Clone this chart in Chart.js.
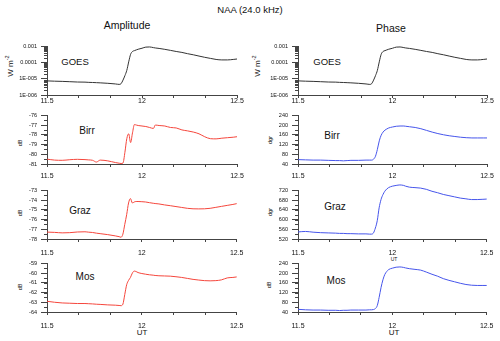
<!DOCTYPE html>
<html>
<head>
<meta charset="utf-8">
<script src="https://cdn.jsdelivr.net/npm/chart.js@4"></script>
<style>
body { margin: 0; background: #fff; }
#wrap { position: relative; width: 500px; height: 341px; overflow: hidden; font-family: "Liberation Sans", Arial, sans-serif; color: #111; }
#wrap canvas { position: absolute; }
.lbl { position: absolute; transform: translate(-50%, -50%); white-space: nowrap; line-height: 1; }
.ylab { position: absolute; transform: translate(-50%, -50%) rotate(-90deg); white-space: nowrap; line-height: 1; }
</style>
</head>
<body>
<div id="wrap">
  <div class="lbl" style="left:250px;top:10px;font-size:9.5px">NAA (24.0 kHz)</div>
  <div class="lbl" style="left:127px;top:25px;font-size:10.5px">Amplitude</div>
  <div class="lbl" style="left:391px;top:28px;font-size:10.5px">Phase</div>

  <div class="lbl" style="left:75px;top:62px;font-size:9.5px">GOES</div>
  <div class="lbl" style="left:327px;top:62px;font-size:9.5px">GOES</div>
  <div class="lbl" style="left:87px;top:131px;font-size:10px">Birr</div>
  <div class="lbl" style="left:332px;top:136px;font-size:10px">Birr</div>
  <div class="lbl" style="left:80px;top:211px;font-size:10px">Graz</div>
  <div class="lbl" style="left:335px;top:207px;font-size:10px">Graz</div>
  <div class="lbl" style="left:85px;top:277px;font-size:10px">Mos</div>
  <div class="lbl" style="left:336px;top:281px;font-size:10px">Mos</div>

  <div class="ylab" style="left:10px;top:66px;font-size:8px">W m<sup style="font-size:5.5px">-2</sup></div>
  <div class="ylab" style="left:257px;top:66px;font-size:8px">W m<sup style="font-size:5.5px">-2</sup></div>
  <div class="ylab" style="left:21px;top:143px;font-size:5.5px">dB</div>
  <div class="ylab" style="left:21px;top:213px;font-size:5.5px">dB</div>
  <div class="ylab" style="left:21px;top:287px;font-size:5.5px">dB</div>
  <div class="ylab" style="left:271px;top:140px;font-size:5.5px">dgr</div>
  <div class="ylab" style="left:271px;top:212px;font-size:5.5px">dgr</div>
  <div class="ylab" style="left:270px;top:285px;font-size:5.5px">dB</div>

  <div class="lbl" style="left:142px;top:333px;font-size:8px">UT</div>
  <div class="lbl" style="left:394px;top:333px;font-size:8px">UT</div>
  <div class="lbl" style="left:394px;top:259px;font-size:5px">UT</div>
</div>
<script>
// time axis (UT hours)
const ut = [11.50, 11.54, 11.58, 11.62, 11.66, 11.70, 11.72, 11.74, 11.76, 11.78, 11.82, 11.86,
  11.88, 11.89, 11.90, 11.91, 11.92, 11.93, 11.94, 11.95, 11.96, 11.97, 11.98,
  12.00, 12.02, 12.04, 12.06, 12.07, 12.09, 12.12, 12.15, 12.18, 12.21, 12.24,
  12.27, 12.30, 12.33, 12.36, 12.39, 12.42, 12.45, 12.48, 12.50];

// GOES X-ray flux, W m-2
const goesFlux = [7.4e-6, 7.1e-6, 6.9e-6, 6.6e-6, 6.3e-6, 6.2e-6, 6.0e-6, 5.9e-6, 5.75e-6, 5.6e-6, 5.25e-6, 4.8e-6,
  4.5e-6, 5.0e-6, 8.3e-6, 1.55e-5, 3.3e-5, 1.1e-4, 3.2e-4, 4.8e-4, 5.4e-4, 6.0e-4, 6.6e-4,
  7.6e-4, 8.9e-4, 9.1e-4, 8.3e-4, 7.9e-4, 7.4e-4, 6.5e-4, 5.6e-4, 4.8e-4, 4.2e-4, 3.5e-4,
  3.0e-4, 2.5e-4, 2.1e-4, 1.8e-4, 1.55e-4, 1.45e-4, 1.45e-4, 1.55e-4, 1.65e-4];

// amplitude, dB
const birrAmp = [-80.50, -80.60, -80.62, -80.56, -80.52, -80.55, -80.58, -80.62, -80.80, -80.60, -80.68, -80.85,
  -80.92, -80.95, -80.90, -79.80, -78.40, -77.90, -78.80, -77.80, -76.95, -77.00, -77.05,
  -77.10, -77.15, -77.25, -77.35, -77.00, -77.05, -77.10, -77.25, -77.30, -77.50, -77.60,
  -77.72, -77.90, -78.20, -78.40, -78.42, -78.35, -78.30, -78.25, -78.20];
const grazAmp = [-77.29, -77.32, -77.37, -77.35, -77.28, -77.26, -77.30, -77.33, -77.40, -77.45, -77.55, -77.68,
  -77.76, -77.82, -77.50, -76.50, -75.50, -74.30, -73.85, -74.30, -74.20, -74.15, -74.15,
  -74.17, -74.20, -74.27, -74.33, -74.36, -74.40, -74.50, -74.58, -74.67, -74.76, -74.85,
  -74.90, -74.91, -74.90, -74.85, -74.75, -74.65, -74.55, -74.45, -74.37];
const mosAmp = [-62.90, -63.00, -63.07, -63.10, -63.13, -63.13, -63.15, -63.17, -63.20, -63.22, -63.27, -63.30,
  -63.33, -63.35, -63.20, -62.20, -61.20, -60.75, -60.45, -60.00, -59.80, -59.85, -59.95,
  -60.05, -60.12, -60.18, -60.22, -60.25, -60.28, -60.30, -60.32, -60.38, -60.45, -60.55,
  -60.65, -60.72, -60.78, -60.80, -60.78, -60.70, -60.50, -60.45, -60.40];

// phase, degrees
const birrPhase = [58, 57, 56, 56, 55, 54, 54, 53, 54, 55, 55, 56,
  56, 56, 60, 72, 100, 135, 158, 171, 179, 184, 188,
  192, 195, 196, 196, 195, 193, 190, 185, 178, 171, 165,
  160, 156, 153, 150, 148, 147, 147, 147, 147];
const grazPhase = [549, 551, 548, 546, 545, 544, 543, 543, 542, 542, 541, 541,
  540, 540, 545, 565, 595, 648, 682, 702, 716, 725, 731,
  737, 740, 742, 740, 737, 733, 731, 729, 724, 716, 710,
  703, 698, 693, 688, 685, 682, 682, 683, 684];
const mosPhase = [51, 49, 48, 48, 47, 47, 46, 47, 47, 48, 48, 48,
  49, 49, 50, 54, 66, 100, 140, 172, 194, 206, 214,
  220, 224, 225, 223, 221, 218, 215, 212, 204, 195, 187,
  177, 170, 164, 158, 153, 150, 149, 149, 149];

// tick labels
const xTickLabels = ['11.5', '12', '12.5'];
const goesTicks = [1e-6, 1e-5, 1e-4, 1e-3];
const goesTickLabels = ['1E-006', '1E-005', '0.0001', '0.001'];

const FONT = '"Liberation Sans", Arial, sans-serif';
const axisColor = '#444';
const goesColor = '#333';
const ampColor = 'rgb(245,70,60)';
const phaseColor = 'rgb(70,85,235)';

const panels = [
  { left: 0,   top: 45,  series: goesFlux,  color: goesColor,  log: true, xPad: -1 },
  { left: 0,   top: 114, series: birrAmp,   color: ampColor,   min: -81, max: -76, step: 1, minor: 0.5, xPad: 5 },
  { left: 0,   top: 189, series: grazAmp,   color: ampColor,   min: -78, max: -73, step: 1, minor: 0.5, xPad: 6.5 },
  { left: 0,   top: 262, series: mosAmp,    color: ampColor,   min: -64, max: -59, step: 1, minor: 0.5, xPad: 6.5 },
  { left: 250, top: 45,  series: goesFlux,  color: goesColor,  log: true, xPad: -1 },
  { left: 250, top: 114, series: birrPhase, color: phaseColor, min: 40, max: 240, step: 40, minor: 20, xPad: 5 },
  { left: 250, top: 189, series: grazPhase, color: phaseColor, min: 520, max: 720, step: 40, minor: 20, xPad: 6.5 },
  { left: 250, top: 262, series: mosPhase,  color: phaseColor, min: 40, max: 240, step: 40, minor: 20, xPad: 6.5 }
];

// short unlabeled ticks on the y axis
const minorTicks = {
  id: 'minorTicks',
  afterDraw(chart, args, opts) {
    const y = chart.scales.y;
    const ctx = chart.ctx;
    const x0 = chart.chartArea.left;
    ctx.save();
    ctx.strokeStyle = axisColor;
    ctx.lineWidth = 1;
    ctx.beginPath();
    opts.values.forEach(v => {
      const py = Math.round(y.getPixelForValue(v)) + 0.5;
      ctx.moveTo(x0 - opts.len, py);
      ctx.lineTo(x0, py);
    });
    ctx.stroke();
    ctx.restore();
  }
};

const wrap = document.getElementById('wrap');
const xTicks = [0, 1, 2, 3, 4, 5, 6].map(i => 11.5 + i / 6);

panels.forEach(p => {
  const cv = document.createElement('canvas');
  cv.width = 250;
  cv.height = 78;
  cv.style.left = p.left + 'px';
  cv.style.top = (p.top - 6) + 'px';
  wrap.appendChild(cv);

  let minorVals = [];
  if (p.log) {
    [-6, -5, -4].forEach(e => {
      for (let k = 2; k <= 9; k++) minorVals.push(k * Math.pow(10, e));
    });
  } else {
    for (let v = p.min; v <= p.max + 1e-9; v += p.minor) minorVals.push(v);
  }

  const yScale = p.log ? {
    type: 'logarithmic',
    min: 1e-6,
    max: 1e-3,
    afterBuildTicks: s => { s.ticks = goesTicks.map(v => ({ value: v })); },
    ticks: { callback: v => goesTickLabels[goesTicks.indexOf(v)] }
  } : {
    type: 'linear',
    min: p.min,
    max: p.max,
    ticks: { stepSize: p.step, callback: v => String(v) }
  };
  Object.assign(yScale.ticks, { font: { family: FONT, size: 5.5 }, color: '#111', padding: 4, autoSkip: false });
  yScale.afterFit = s => { s.width = p.left === 0 ? 47 : 48; };
  yScale.grid = { drawOnChartArea: false, tickLength: 6, color: axisColor };
  yScale.border = { color: axisColor };

  new Chart(cv, {
    type: 'line',
    data: {
      datasets: [{
        data: ut.map((t, i) => ({ x: t, y: p.series[i] })),
        borderColor: p.color,
        borderWidth: 1,
        pointRadius: 0,
        cubicInterpolationMode: 'monotone',
        clip: false
      }]
    },
    options: {
      responsive: false,
      animation: false,
      events: [],
      layout: { padding: { top: 6, right: 13, left: 0, bottom: 0 } },
      plugins: {
        legend: { display: false },
        tooltip: { enabled: false },
        minorTicks: { values: minorVals, len: 3 }
      },
      scales: {
        x: {
          type: 'linear',
          min: 11.5,
          max: 12.5,
          afterBuildTicks: s => { s.ticks = xTicks.map(v => ({ value: v })); },
          afterFit: s => { s.height = 22; },
          grid: { drawOnChartArea: false, tickLength: 3, color: axisColor },
          border: { color: axisColor },
          ticks: {
            autoSkip: false,
            maxRotation: 0,
            padding: p.xPad,
            font: { family: FONT, size: 7 },
            color: '#111',
            callback: (v, i) => (i % 3 === 0 ? xTickLabels[i / 3] : '')
          }
        },
        y: yScale
      }
    },
    plugins: [minorTicks]
  });
});
</script>
</body>
</html>
